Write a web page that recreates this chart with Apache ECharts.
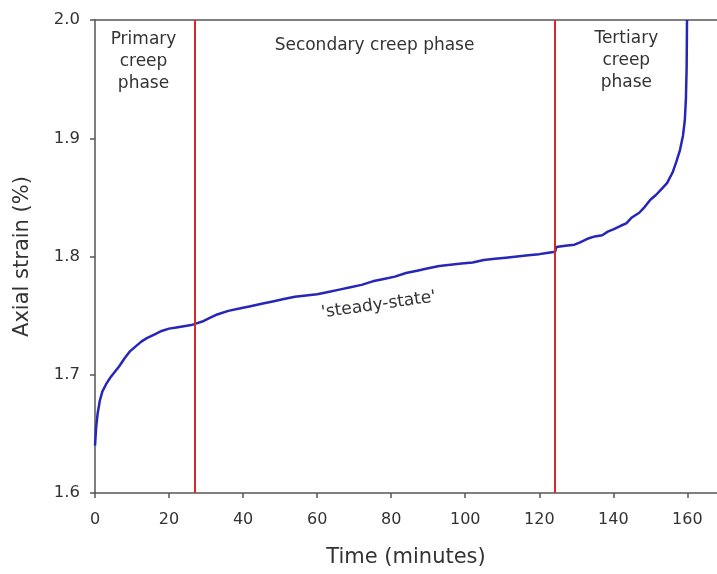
<!DOCTYPE html>
<html>
<head>
<meta charset="utf-8">
<script src="https://cdn.jsdelivr.net/npm/echarts@6/dist/echarts.min.js"></script>
<style>
  html, body { margin: 0; padding: 0; background: #fff; }
  #chart { width: 717px; height: 574px; }
</style>
</head>
<body>
<div id="chart"></div>
<script>
// Creep test record: elapsed time (minutes) and axial strain (%)
const timeMin = [
  0, 0.3, 0.7, 1.3, 2, 3, 4, 5, 6.5, 8, 9.5, 11, 12.5, 14, 16, 18, 20, 22, 24, 26,
  27, 29, 31, 33, 36, 39, 42, 45, 48, 51, 54, 57, 60, 63, 66, 69, 72, 75, 78, 81,
  84, 87, 90, 93, 96, 99, 102, 105, 108, 111, 114, 117, 120, 122, 124.3, 124.6, 127, 129.5, 131, 133,
  135, 137, 138.5, 140, 142, 143.5, 145, 147, 148.5, 150, 151.5, 153, 154.5, 156, 157, 158, 158.8, 159.3, 159.6, 159.8,
  159.9
];
const axialStrain = [
  1.640, 1.655, 1.667, 1.678, 1.686, 1.692, 1.697, 1.701, 1.707, 1.714, 1.720, 1.724, 1.728, 1.731, 1.734, 1.737, 1.739, 1.740, 1.741, 1.742,
  1.743, 1.745, 1.748, 1.751, 1.754, 1.756, 1.758, 1.760, 1.762, 1.764, 1.766, 1.767, 1.768, 1.770, 1.772, 1.774, 1.776, 1.779, 1.781, 1.783,
  1.786, 1.788, 1.790, 1.792, 1.793, 1.794, 1.795, 1.797, 1.798, 1.799, 1.800, 1.801, 1.802, 1.803, 1.804, 1.808, 1.809, 1.810, 1.812, 1.815,
  1.817, 1.818, 1.821, 1.823, 1.826, 1.828, 1.833, 1.837, 1.842, 1.848, 1.852, 1.857, 1.862, 1.871, 1.880, 1.890, 1.902, 1.915, 1.933, 1.960,
  2.000
];

// Boundaries between creep phases (minutes)
const phaseBounds = [27, 124.3];

// Axis ranges and ticks
const xTicks = [0, 20, 40, 60, 80, 100, 120, 140, 160];
const yTicks = [1.6, 1.7, 1.8, 1.9, 2.0];
const xMax = 168;

// Annotations: [text, time, strain, rotation in degrees]
const phaseLabels = [
  ['Primary\ncreep\nphase', 13.1, 1.9645, 0],
  ['Secondary creep phase', 75.5, 1.978, 0],
  ['Tertiary\ncreep\nphase', 143.5, 1.9655, 0],
  ["'steady-state'", 76.6, 1.759, 8]
];

const FONT = '"DejaVu Sans", Verdana, sans-serif';
const TEXT = '#333333';
const AXIS = '#555555';

const chart = echarts.init(document.getElementById('chart'), null, { renderer: 'canvas' });

const linePoints = timeMin.map((t, i) => [t, axialStrain[i]]);

chart.setOption({
  animation: false,
  backgroundColor: '#ffffff',
  grid: { left: 95, top: 20, right: 0, bottom: 81, containLabel: false },
  xAxis: [{
    type: 'value',
    min: 0, max: xMax, interval: 20,
    name: 'Time (minutes)',
    nameLocation: 'middle',
    nameGap: 54,
    nameTextStyle: { fontFamily: FONT, fontSize: 21, color: TEXT },
    axisLine: { show: true, onZero: false, lineStyle: { color: AXIS, width: 1.5 } },
    axisTick: { show: true, inside: false, length: 5, customValues: xTicks, lineStyle: { color: AXIS, width: 1.5 } },
    axisLabel: {
      fontFamily: FONT, fontSize: 16, color: TEXT, margin: 19,
      customValues: xTicks,
      formatter: v => String(v)
    },
    splitLine: { show: false }
  }, {
    type: 'value',
    position: 'top',
    min: 0, max: xMax,
    axisLine: { show: true, lineStyle: { color: AXIS, width: 1.5 } },
    axisTick: { show: false },
    axisLabel: { show: false },
    splitLine: { show: false }
  }],
  yAxis: {
    type: 'value',
    min: 1.6, max: 2.0, interval: 0.1,
    name: 'Axial strain (%)',
    nameLocation: 'middle',
    nameGap: 62,
    nameRotate: 90,
    nameTextStyle: { fontFamily: FONT, fontSize: 21, color: TEXT },
    axisLine: { show: true, lineStyle: { color: AXIS, width: 1.5 } },
    axisTick: { show: true, inside: false, length: 5, customValues: yTicks, lineStyle: { color: AXIS, width: 1.5 } },
    axisLabel: {
      fontFamily: FONT, fontSize: 16.5, color: TEXT, margin: 15,
      customValues: yTicks,
      formatter: v => v.toFixed(1)
    },
    splitLine: { show: false }
  },
  series: [{
    type: 'line',
    data: linePoints,
    showSymbol: false,
    symbol: 'none',
    smooth: false,
    lineStyle: { color: '#2626b8', width: 2.5 },
    z: 3,
    markLine: {
      silent: true,
      symbol: ['none', 'none'],
      label: { show: false },
      lineStyle: { color: '#d42a2a', width: 2, type: 'solid' },
      data: phaseBounds.map(b => ({ xAxis: b }))
    }
  }]
});

// Phase annotations placed in data coordinates
chart.setOption({
  graphic: phaseLabels.map(([txt, t, s, rot]) => {
    const p = chart.convertToPixel({ xAxisIndex: 0, yAxisIndex: 0 }, [t, s]);
    return {
      type: 'text',
      x: p[0], y: p[1],
      rotation: rot * Math.PI / 180,
      style: {
        text: txt,
        fontFamily: FONT,
        fontSize: 17,
        lineHeight: 22,
        fill: TEXT,
        align: 'center',
        verticalAlign: 'middle'
      },
      z: 10
    };
  })
});
</script>
</body>
</html>
